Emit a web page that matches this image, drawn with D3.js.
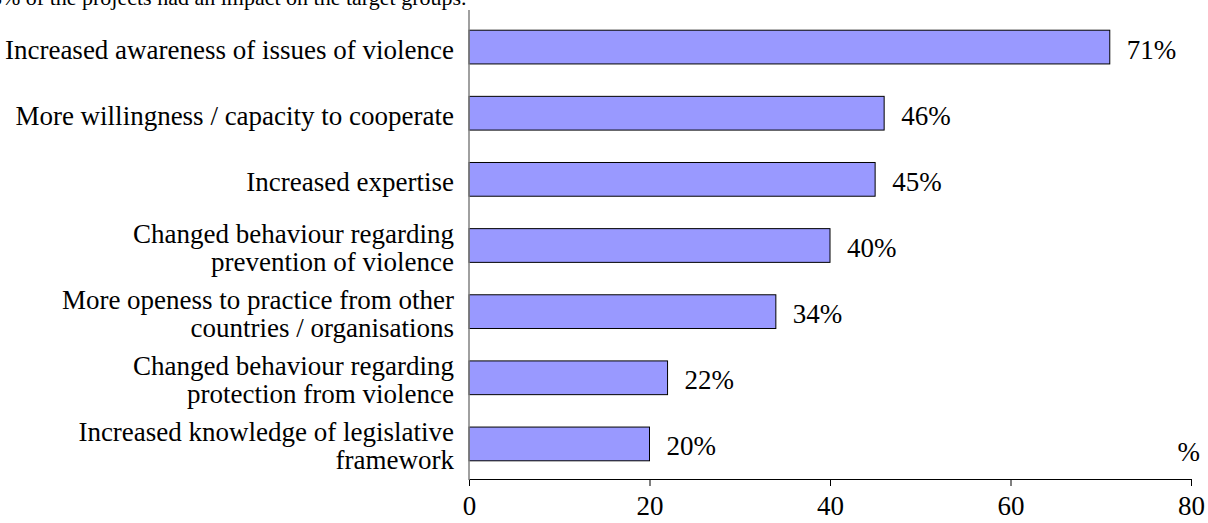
<!DOCTYPE html>
<html>
<head>
<meta charset="utf-8">
<script src="https://cdn.jsdelivr.net/npm/d3@7"></script>
<style>
  html, body { margin: 0; padding: 0; background: #fff; }
  svg { display: block; }
  svg text { font-family: "Liberation Serif", Tinos, "Times New Roman", Times, serif !important; fill: #000; }
</style>
</head>
<body>
<svg id="chart" width="1208" height="523"></svg>
<script>
// Impact of the projects on the target groups (share of projects, %)
const categories = [
  "Increased awareness of issues of violence",
  "More willingness / capacity to cooperate",
  "Increased expertise",
  "Changed behaviour regarding\nprevention of violence",
  "More openess to practice from other\ncountries / organisations",
  "Changed behaviour regarding\nprotection from violence",
  "Increased knowledge of legislative\nframework"
];
const values = [71, 46, 45, 40, 34, 22, 20];
const xTicks = [0, 20, 40, 60, 80];
const titleText = "5% of the projects had an impact on the target groups.";
const unitText = "%";

const svg = d3.select("#chart");
const fontSize = 27;

const x = d3.scaleLinear().domain([0, 80]).range([469, 1191]);
const y = d3.scaleBand().domain(categories).range([14, 477]).paddingInner(0.49).paddingOuter(0.245);

// heading line running off the top edge
svg.append("text")
  .attr("x", -9).attr("y", 5)
  .attr("font-size", 22)
  .text(titleText);

// bars
svg.append("g").selectAll("rect")
  .data(values)
  .join("rect")
  .attr("x", x(0))
  .attr("y", (d, i) => y(categories[i]))
  .attr("width", d => x(d) - x(0))
  .attr("height", y.bandwidth())
  .attr("fill", "#9999ff")
  .attr("stroke", "#000")
  .attr("stroke-width", 1);

// value labels
svg.append("g").selectAll("text")
  .data(values)
  .join("text")
  .attr("x", d => x(d) + 17)
  .attr("y", (d, i) => y(categories[i]) + y.bandwidth() / 2 + 2)
  .attr("dy", "0.35em")
  .attr("font-size", fontSize)
  .text(d => d + "%");

// x axis
const xAxis = d3.axisBottom(x).tickValues(xTicks).tickSize(7).tickPadding(10);
const gx = svg.append("g").attr("transform", "translate(0,479)").call(xAxis);
gx.attr("font-family", null);
gx.select(".domain").attr("stroke", "#000").attr("d", `M${x(0)},0.5H${x(80)}`);
gx.selectAll(".tick line").attr("stroke", "#000");
gx.selectAll(".tick text")
  .attr("font-size", fontSize)
  .attr("fill", "#000");

// y axis line
svg.append("line")
  .attr("x1", 469).attr("x2", 469)
  .attr("y1", 10).attr("y2", 480)
  .attr("stroke", "#808080").attr("stroke-width", 1.5);

// category labels (wrapped)
const lineGap = 28;
const catG = svg.append("g");
categories.forEach(c => {
  const lines = c.split("\n");
  const cy = y(c) + y.bandwidth() / 2 + 2;
  const t = catG.append("text")
    .attr("text-anchor", "end")
    .attr("font-size", fontSize);
  lines.forEach((ln, j) => {
    t.append("tspan")
      .attr("x", 454)
      .attr("y", cy + (j - (lines.length - 1) / 2) * lineGap)
      .attr("dy", "0.35em")
      .text(ln);
  });
});

// unit label
svg.append("text")
  .attr("x", 1200).attr("y", 452)
  .attr("text-anchor", "end")
  .attr("dy", "0.35em")
  .attr("font-size", fontSize)
  .text(unitText);
</script>
</body>
</html>
